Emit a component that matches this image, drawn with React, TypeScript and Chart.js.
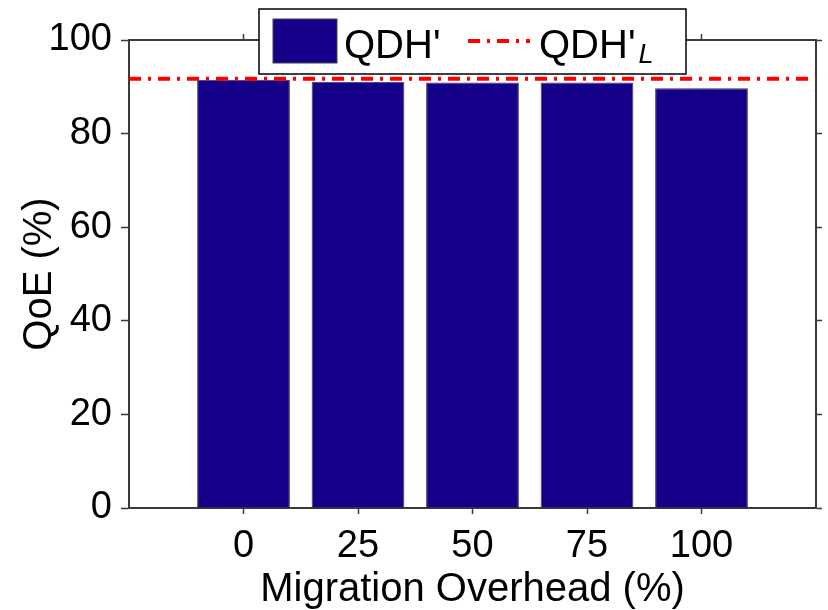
import { useEffect, useRef } from 'react';
import { Chart, registerables } from 'chart.js';

Chart.register(...registerables);

// ---- data ----
const categories = ['', '0', '25', '50', '75', '100', ''];
const qdhValues = [null, 91.5, 91.1, 90.9, 90.9, 89.7, null];
const qdhLValues = [91.7, 91.7, 91.7, 91.7, 91.7, 91.7, 91.7];
const yMin = 0;
const yMax = 100;
const yStep = 20;
const seriesLabels = ["QDH'", "QDH'"];
const legendSubscript = 'L';
const xTitle = 'Migration Overhead (%)';
const yTitle = 'QoE (%)';

const BAR_COLOR = '#15008a';
const LINE_COLOR = '#ff0000';
const AXIS_COLOR = '#3a3a3a';
const FONT = '"Liberation Sans", Arial, Helvetica, sans-serif';
const DASH = [12, 7, 3, 7];

const legendPlugin = {
  id: 'customLegend',
  afterDraw(chart: any) {
    const { ctx, chartArea } = chart;
    const cx = (chartArea.left + chartArea.right) / 2;
    const w = 427;
    const h = 65;
    const left = cx - w / 2;
    const top = 9;
    ctx.save();
    ctx.fillStyle = '#ffffff';
    ctx.fillRect(left, top, w, h);
    ctx.strokeStyle = '#000000';
    ctx.lineWidth = 1.5;
    ctx.strokeRect(left, top, w, h);

    // bar patch
    ctx.fillStyle = BAR_COLOR;
    ctx.fillRect(left + 14, top + 10, 64, 44);
    ctx.strokeStyle = '#444';
    ctx.lineWidth = 1;
    ctx.strokeRect(left + 14, top + 10, 64, 44);

    ctx.fillStyle = '#000';
    ctx.textBaseline = 'alphabetic';
    ctx.textAlign = 'left';
    ctx.font = `40px ${FONT}`;
    ctx.fillText(seriesLabels[0], left + 85, top + 49);

    // dash sample
    ctx.strokeStyle = LINE_COLOR;
    ctx.lineWidth = 4;
    ctx.setLineDash(DASH);
    ctx.beginPath();
    ctx.moveTo(left + 209, top + 32);
    ctx.lineTo(left + 271, top + 32);
    ctx.stroke();
    ctx.setLineDash([]);

    ctx.font = `40px ${FONT}`;
    const tx = left + 280;
    ctx.fillText(seriesLabels[1], tx, top + 49);
    const tw = ctx.measureText(seriesLabels[1]).width;
    ctx.font = `italic 27px ${FONT}`;
    ctx.fillText(legendSubscript, tx + tw + 3, top + 54);
    ctx.restore();
  },
};

export default function App() {
  const canvasRef = useRef<HTMLCanvasElement | null>(null);

  useEffect(() => {
    document.body.style.margin = '0';
    const canvas = canvasRef.current;
    if (!canvas) return;
    const hideEdge = (c: any) =>
      c.index === 0 || c.index === categories.length - 1 ? 'rgba(0,0,0,0)' : AXIS_COLOR;
    const chart = new Chart(canvas, {
      type: 'bar',
      data: {
        labels: categories,
        datasets: [
          {
            type: 'line',
            label: seriesLabels[1] + legendSubscript,
            data: qdhLValues,
            borderColor: LINE_COLOR,
            borderWidth: 4,
            borderDash: DASH,
            pointRadius: 0,
            fill: false,
            order: 0,
          } as any,
          {
            type: 'bar',
            label: seriesLabels[0],
            data: qdhValues,
            backgroundColor: BAR_COLOR,
            borderColor: '#3a3a55',
            borderWidth: 1,
            barPercentage: 0.81,
            categoryPercentage: 1,
            order: 1,
          } as any,
        ],
      },
      options: {
        animation: false,
        responsive: true,
        maintainAspectRatio: false,
        layout: { padding: 0 },
        plugins: {
          legend: { display: false },
          tooltip: { enabled: false },
        },
        scales: {
          x: {
            type: 'category',
            position: 'bottom',
            offset: false,
            grid: {
              offset: false,
              drawOnChartArea: false,
              tickLength: 6,
              tickColor: hideEdge,
              tickWidth: 1.5,
            },
            border: { color: AXIS_COLOR, width: 2 },
            ticks: {
              font: { family: FONT, size: 38 },
              color: '#000',
              padding: 10,
              autoSkip: false,
              maxRotation: 0,
            },
            title: {
              display: true,
              text: xTitle,
              font: { family: FONT, size: 40, lineHeight: 1 },
              color: '#000',
              padding: { top: 0, bottom: 0 },
            },
            afterFit: (s: any) => {
              s.height = 102;
            },
          },
          x2: {
            type: 'category',
            position: 'top',
            offset: false,
            grid: {
              offset: false,
              drawOnChartArea: false,
              tickLength: 6,
              tickColor: hideEdge,
              tickWidth: 1.5,
            },
            border: { color: AXIS_COLOR, width: 2 },
            ticks: { display: false, autoSkip: false },
            afterFit: (s: any) => {
              s.height = 40;
            },
          },
          y: {
            position: 'left',
            min: yMin,
            max: yMax,
            ticks: {
              stepSize: yStep,
              font: { family: FONT, size: 38 },
              color: '#000',
              padding: 9,
            },
            grid: {
              drawOnChartArea: false,
              tickLength: 8,
              tickColor: AXIS_COLOR,
              tickWidth: 1.5,
            },
            border: { color: AXIS_COLOR, width: 2 },
            title: {
              display: true,
              text: yTitle,
              font: { family: FONT, size: 40, lineHeight: 1.2 },
              color: '#000',
              padding: { top: 16, bottom: 0 },
            },
            afterFit: (s: any) => {
              s.width = 129;
            },
          },
          y2: {
            position: 'right',
            min: yMin,
            max: yMax,
            ticks: { display: false, stepSize: yStep },
            grid: {
              drawOnChartArea: false,
              tickLength: 6,
              tickColor: AXIS_COLOR,
              tickWidth: 1.5,
            },
            border: { color: AXIS_COLOR, width: 2 },
            afterFit: (s: any) => {
              s.width = 12;
            },
          },
        },
      },
      plugins: [legendPlugin],
    });
    return () => chart.destroy();
  }, []);

  return (
    <div style={{ width: 828, height: 610, position: 'relative', background: '#fff' }}>
      <canvas ref={canvasRef} />
    </div>
  );
}
